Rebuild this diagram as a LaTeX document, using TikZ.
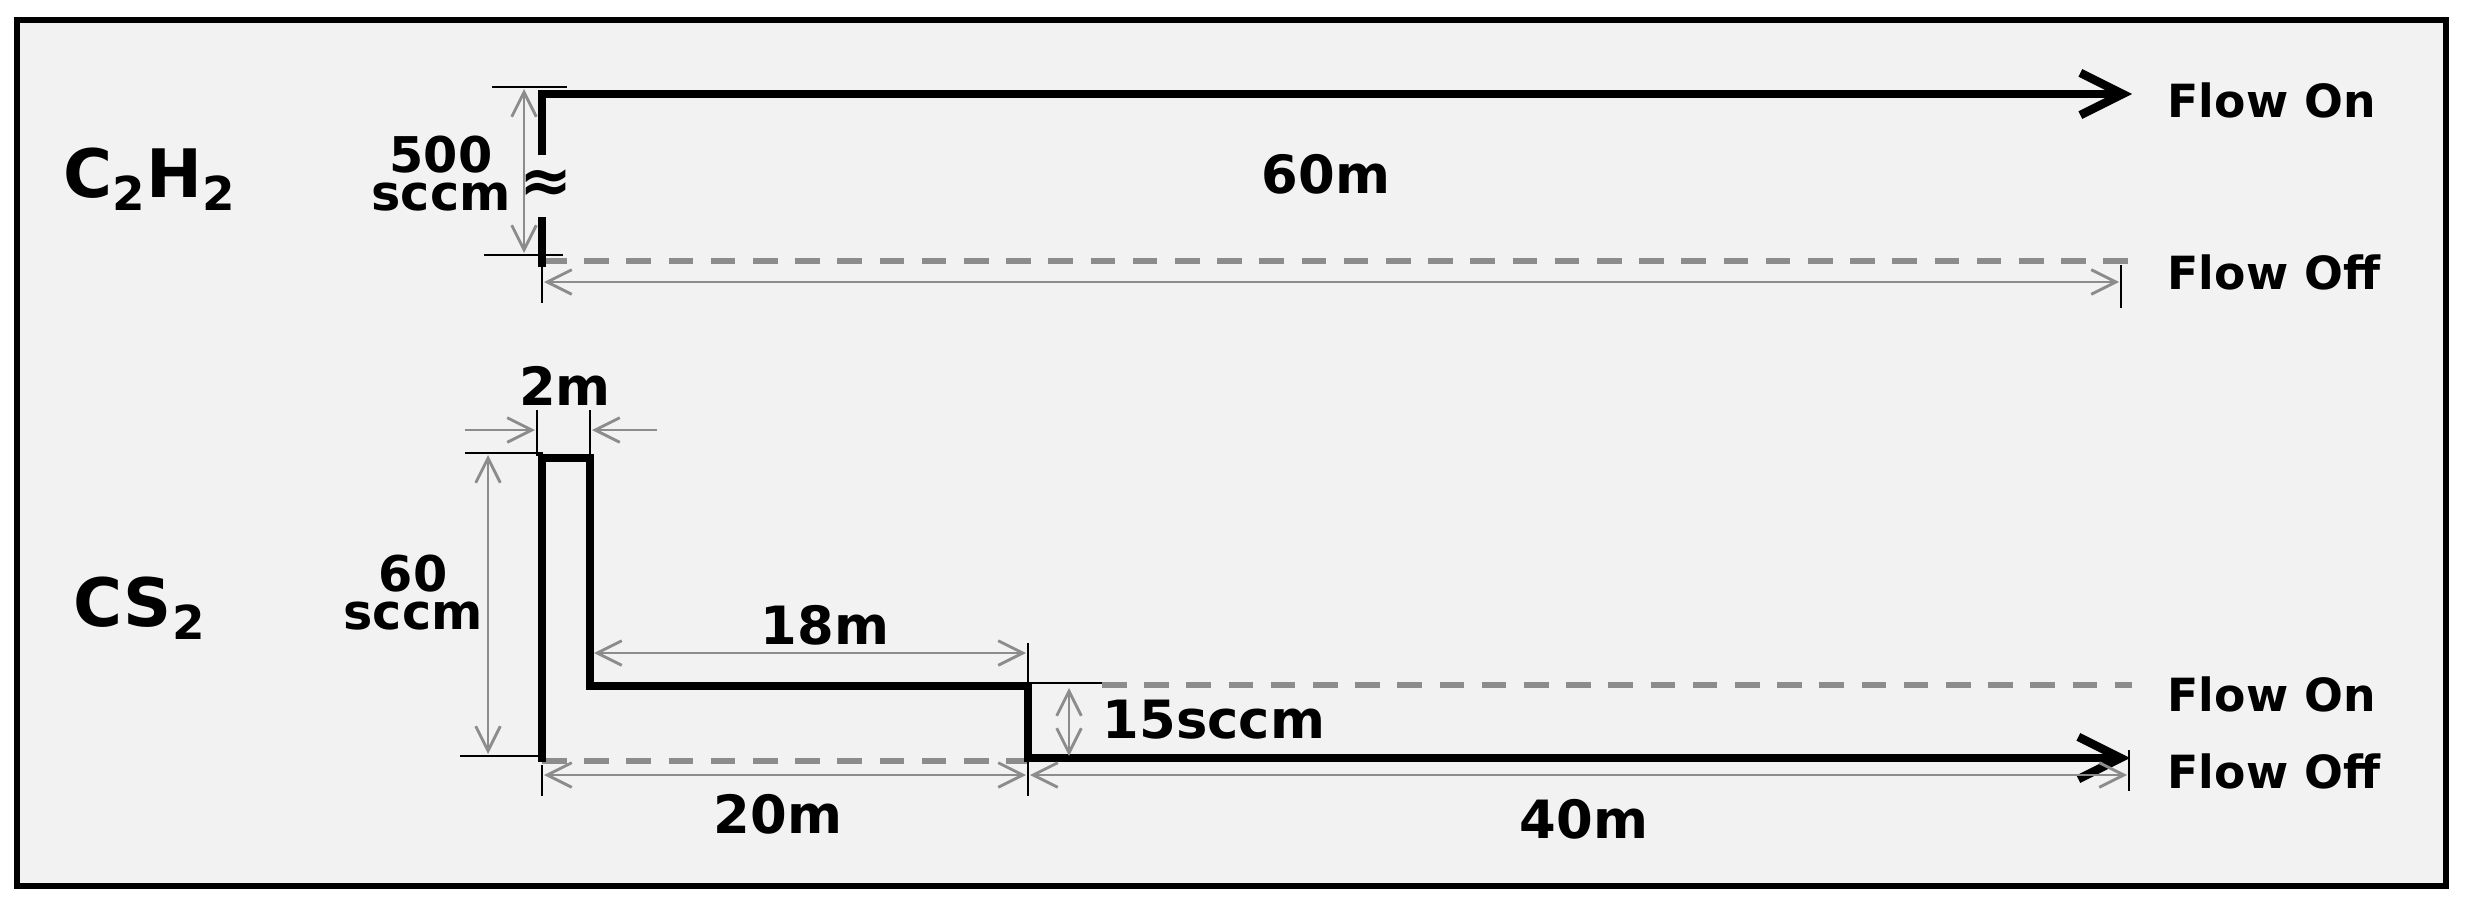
\documentclass[tikz,border=0pt]{standalone}
\usepackage{fontspec}
\setmainfont{DejaVu Sans}
\usetikzlibrary{arrows.meta}
\definecolor{panel}{HTML}{F2F2F2}
\definecolor{dimgrey}{HTML}{8C8C8C}

\begin{document}
\begin{tikzpicture}[x=0.01cm, y=-0.01cm,
    every node/.style={inner sep=0pt},
    lbl/.style={anchor=base, font=\bfseries\fontsize{15}{15}\selectfont},
    rate/.style={anchor=base, align=center, font=\bfseries\fontsize{14}{10.8}\selectfont},
    gas/.style={anchor=base, font=\bfseries\fontsize{19}{19}\selectfont},
    state/.style={anchor=base west, font=\bfseries\fontsize{13}{13}\selectfont},
    flow/.style={line width=2.4pt, line join=miter, -{Straight Barb[length=12pt, width=12pt]}},
    dim/.style={dimgrey, line width=0.8pt, {Straight Barb[length=7pt, width=7pt]}-{Straight Barb[length=7pt, width=7pt]}},
    half/.style={dimgrey, line width=0.8pt, -{Straight Barb[length=7pt, width=7pt]}},
    tick/.style={black, line width=0.6pt},
    offline/.style={dimgrey, line width=1.5pt, dash pattern=on 7pt off 5pt}]

	% frame
	\fill[white] (0,0) rectangle (2468,906);
	\draw[line width=1.8pt, fill=panel] (17,20) rectangle (2446,886);

	% C2H2
	\node[gas] (c2h2) at (150,197) {C\textsubscript{2}H\textsubscript{2}};
	\node[font=\bfseries\fontsize{18}{18}\selectfont] (brk) at (546,186) {≈};
	\coordinate (a0) at (542,267);
	\coordinate (a1) at (542,217);
	\coordinate (a2) at (542,155);
	\coordinate (a3) at (542,94);
	\coordinate (a4) at (2132,94);

	\draw[offline] (542,261) -- (2128,261);
	\draw[line width=2.4pt] (a0) -- (a1);
	\draw[flow] (a2) -- (a3) -- (a4);

	\draw[tick] (492,87) -- (567,87);
	\draw[tick] (484,255) -- (563,255);
	\draw[dim] (524,89) -- (524,253);
	\node[rate] (q500) at (441,210) {500\\sccm};

	\draw[tick] (542,255) -- (542,303);
	\draw[tick] (2121,265) -- (2121,308);
	\draw[dim] (544,282) -- (2119,282);
	\node[lbl] (t60) at (1326,193) {60m};

	\node[state] (on1) at (2167,117) {Flow On};
	\node[state] (off1) at (2167,289) {Flow Off};

	% CS2
	\node[gas] (cs2) at (140,626) {CS\textsubscript{2}};
	\coordinate (b0) at (542,762);
	\coordinate (b1) at (542,458);
	\coordinate (b2) at (590,458);
	\coordinate (b3) at (590,686);
	\coordinate (b4) at (1028,686);
	\coordinate (b5) at (1028,758);
	\coordinate (b6) at (2130,758);

	\draw[offline] (542,761) -- (1028,761);
	\draw[offline] (1102,685) -- (2132,685);
	\draw[flow] (b0) -- (b1) -- (b2) -- (b3) -- (b4) -- (b5) -- (b6);

	% 2m
	\draw[tick] (537,410) -- (537,456);
	\draw[tick] (590,410) -- (590,456);
	\draw[half] (465,430) -- (535,430);
	\draw[half] (657,430) -- (592,430);
	\node[lbl] (t2) at (565,405) {2m};

	% 60 sccm
	\draw[tick] (465,453) -- (543,453);
	\draw[tick] (460,756) -- (543,756);
	\draw[dim] (488,455) -- (488,754);
	\node[rate] (q60) at (413,629) {60\\sccm};

	% 18m
	\draw[dim] (594,653) -- (1026,653);
	\draw[tick] (1028,643) -- (1028,686);
	\node[lbl] (t18) at (825,644) {18m};

	% 15sccm
	\draw[tick] (1028,683) -- (1102,683);
	\draw[dim] (1069,688) -- (1069,756);
	\node[lbl, anchor=base west] (q15) at (1102,738) {15sccm};

	% 20m
	\draw[tick] (542,765) -- (542,796);
	\draw[tick] (1028,760) -- (1028,796);
	\draw[dim] (544,775) -- (1026,775);
	\node[lbl] (t20) at (778,833) {20m};

	% 40m
	\draw[tick] (2129,750) -- (2129,791);
	\draw[dim] (1030,775) -- (2127,775);
	\node[lbl] (t40) at (1584,838) {40m};

	\node[state] (on2) at (2167,711) {Flow On};
	\node[state] (off2) at (2167,788) {Flow Off};
\end{tikzpicture}
\end{document}
